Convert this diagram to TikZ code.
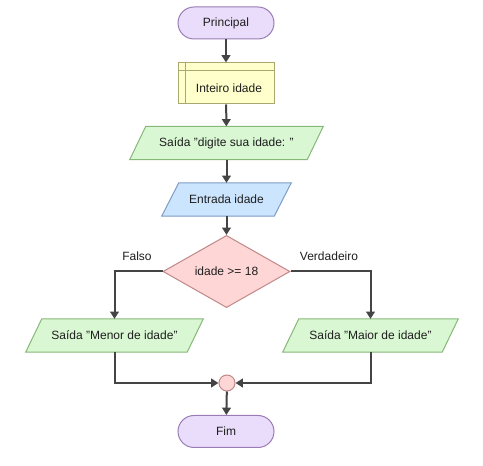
\documentclass[tikz,border=0pt]{standalone}
\usepackage{fontspec}
\setmainfont{Liberation Sans}
\usetikzlibrary{arrows.meta,shapes.geometric,backgrounds}
\definecolor{termfill}{HTML}{E9DDFB}
\definecolor{termdraw}{HTML}{9A7CB4}
\definecolor{declfill}{HTML}{FFFFCC}
\definecolor{decldraw}{HTML}{A9A86E}
\definecolor{outfill}{HTML}{D9F7D2}
\definecolor{outdraw}{HTML}{86B878}
\definecolor{infill}{HTML}{CCE5FF}
\definecolor{indraw}{HTML}{7E9CC6}
\definecolor{decfill}{HTML}{FFD6D6}
\definecolor{decdraw}{HTML}{C08888}
\definecolor{linec}{HTML}{444444}
\definecolor{txt}{HTML}{1E1E1E}
\tikzset{
  every node/.style={font=\fontsize{9}{11}\selectfont, text=txt},
  term/.style={draw=termdraw, fill=termfill, line width=0.75pt, rounded corners=12pt, minimum width=72pt, minimum height=24pt, inner sep=0pt},
  declbox/.style={draw=decldraw, fill=declfill, line width=0.75pt, minimum width=72pt, minimum height=30.75pt, inner sep=0pt},
  plain/.style={minimum width=#1, minimum height=24.5pt, inner sep=0pt},
  decbox/.style={diamond, draw=decdraw, fill=decfill, line width=0.75pt, minimum width=95.25pt, minimum height=47.25pt, inner sep=0pt},
  joinc/.style={circle, draw=decdraw, fill=decfill, line width=0.75pt, minimum size=12pt, inner sep=0pt},
  conn/.style={draw=linec, line width=1.5pt, -{Triangle[length=5.5pt,width=6.5pt]}},
  lbl/.style={font=\fontsize{9}{11}\selectfont, text=txt}
}
\newcommand{\parafill}[4]{% node, slant, fill, draw
  \begin{scope}[on background layer]
  \filldraw[fill=#3, draw=#4, line width=0.75pt]
    ([xshift=#2]#1.north west) -- (#1.north east) -- ([xshift=-#2]#1.south east) -- (#1.south west) -- cycle;
  \end{scope}}
\begin{document}
\begin{tikzpicture}[x=0.75pt,y=-0.75pt]
\useasboundingbox (0,0) rectangle (483,466);
\node[term] (prin) at (226,23) {Principal};
\node[declbox] (decl) at (226,83.5) {\hspace*{4.5pt}\raisebox{-6.5pt}[0pt][0pt]{Inteiro idade}};
\draw[draw=decldraw, line width=0.75pt] ([xshift=6pt]decl.north west) -- ([xshift=6pt]decl.south west);
\draw[draw=decldraw, line width=0.75pt] ([yshift=-6pt]decl.north west) -- ([yshift=-6pt]decl.north east);
\node[plain=144.75pt] (out1) at (226.5,143) {Saída "digite sua idade: "};
\parafill{out1}{12pt}{outfill}{outdraw}
\node[plain=96.75pt] (inp) at (226.5,199.5) {Entrada idade};
\parafill{inp}{12.75pt}{infill}{indraw}
\node[decbox] (dec) at (226.5,271.5) {idade >= 18};
\node[plain=132.75pt] (menor) at (114.5,335.5) {Saída "Menor de idade"};
\parafill{menor}{12pt}{outfill}{outdraw}
\node[plain=131.25pt] (maior) at (370.5,335.5) {Saída "Maior de idade"};
\parafill{maior}{12pt}{outfill}{outdraw}
\node[joinc] (join) at (227,383) {};
\node[term] (fim) at (226,431.5) {Fim};
\node[lbl] (lf) at (137,256) {Falso};
\node[lbl] (lv) at (329,256) {Verdadeiro};
\draw[conn] (prin) -- (decl);
\draw[conn] (decl) -- (out1);
\draw[conn] (out1) -- (inp);
\draw[conn] (inp) -- (dec);
\draw[conn] (dec.west) -| (menor.north);
\draw[conn] (dec.east) -| (maior.north);
\draw[conn] (menor.south) |- (join.west);
\draw[conn] (maior.south) |- (join.east);
\draw[conn] (join) -- (fim);
\end{tikzpicture}
\end{document}
